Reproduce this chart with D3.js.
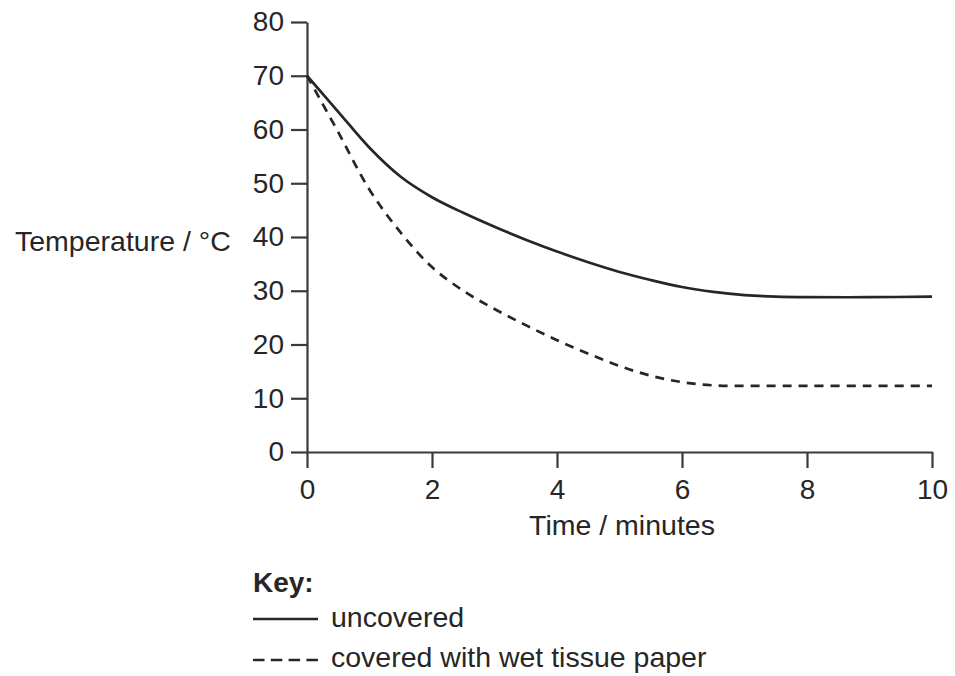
<!DOCTYPE html>
<html>
<head>
<meta charset="utf-8">
<script src="https://cdn.jsdelivr.net/npm/d3@7"></script>
<style>
  body { margin: 0; background: #fff; }
  svg { display: block; font-family: "Liberation Sans", Arial, Helvetica, sans-serif; }
</style>
</head>
<body>
<svg id="chart" width="955" height="676"></svg>
<script>
// ---- data ----
const timeMinutes = [0, 0.5, 1, 1.5, 2, 2.5, 3, 3.5, 4, 4.5, 5, 5.5, 6, 6.5, 7, 7.5, 8, 9, 10];
const uncovered   = [70, 63.3, 56.6, 51.2, 47.4, 44.5, 41.9, 39.5, 37.3, 35.3, 33.5, 32.0, 30.7, 29.8, 29.2, 28.9, 28.8, 28.8, 28.9];
const coveredWet  = [70, 59.5, 48.8, 40.8, 34.4, 30.0, 26.6, 23.6, 20.8, 18.3, 16.0, 14.2, 13.0, 12.4, 12.3, 12.3, 12.3, 12.3, 12.3];
const xTicks = [0, 2, 4, 6, 8, 10];
const yTicks = [0, 10, 20, 30, 40, 50, 60, 70, 80];
const seriesNames = ["uncovered", "covered with wet tissue paper"];
const yTitle = "Temperature / °C";
const xTitle = "Time / minutes";
const keyTitle = "Key:";

// ---- drawing ----
const svg = d3.select("#chart");
const ink = "#262626";
const axisInk = "#3a3a3a";
const fs = 28;
const fsT = 28.5;

const x = d3.scaleLinear().domain([0, 10]).range([307, 932]);
const y = d3.scaleLinear().domain([0, 80]).range([452, 22]);

// y axis
const gy = svg.append("g").attr("transform", `translate(${x(0)},0)`)
  .call(d3.axisLeft(y).tickValues(yTicks).tickSize(16).tickSizeOuter(0).tickPadding(7));
gy.selectAll("text").attr("font-size", fs).attr("fill", ink).attr("font-family", "Liberation Sans, Arial, sans-serif");
gy.selectAll("line, path").attr("stroke", axisInk).attr("stroke-width", 2.2);

// x axis
const gx = svg.append("g").attr("transform", `translate(0,${y(0)})`)
  .call(d3.axisBottom(x).tickValues(xTicks).tickSize(16).tickSizeOuter(0).tickPadding(11));
gx.selectAll("text").attr("font-size", fs).attr("fill", ink).attr("font-family", "Liberation Sans, Arial, sans-serif");
gx.selectAll("line, path").attr("stroke", axisInk).attr("stroke-width", 2.2);

// lines
const line = (vals) => d3.line()
  .x((d, i) => x(timeMinutes[i]))
  .y(d => y(d))
  .curve(d3.curveCatmullRom.alpha(0.5))(vals);

svg.append("path").attr("d", line(uncovered))
  .attr("fill", "none").attr("stroke", ink).attr("stroke-width", 2.7);
svg.append("path").attr("d", line(coveredWet))
  .attr("fill", "none").attr("stroke", ink).attr("stroke-width", 2.7)
  .attr("stroke-dasharray", "9,7");

// titles
svg.append("text").attr("x", 15).attr("y", 251)
  .attr("font-size", fsT).attr("fill", ink).text(yTitle);
svg.append("text").attr("x", 622).attr("y", 535).attr("text-anchor", "middle")
  .attr("font-size", fsT).attr("fill", ink).text(xTitle);

// key
svg.append("text").attr("x", 253).attr("y", 592)
  .attr("font-size", fs).attr("font-weight", "bold").attr("fill", ink).text(keyTitle);

const keyRows = [
  { name: seriesNames[0], dash: null, ly: 619, ty: 627 },
  { name: seriesNames[1], dash: "11.5,6.3", ly: 660, ty: 667 }
];
keyRows.forEach(r => {
  const l = svg.append("line").attr("x1", 253).attr("x2", 318)
    .attr("y1", r.ly).attr("y2", r.ly)
    .attr("stroke", ink).attr("stroke-width", 2.3);
  if (r.dash) l.attr("stroke-dasharray", r.dash);
  svg.append("text").attr("x", 331).attr("y", r.ty)
    .attr("font-size", fsT).attr("fill", ink).text(r.name);
});
</script>
</body>
</html>
